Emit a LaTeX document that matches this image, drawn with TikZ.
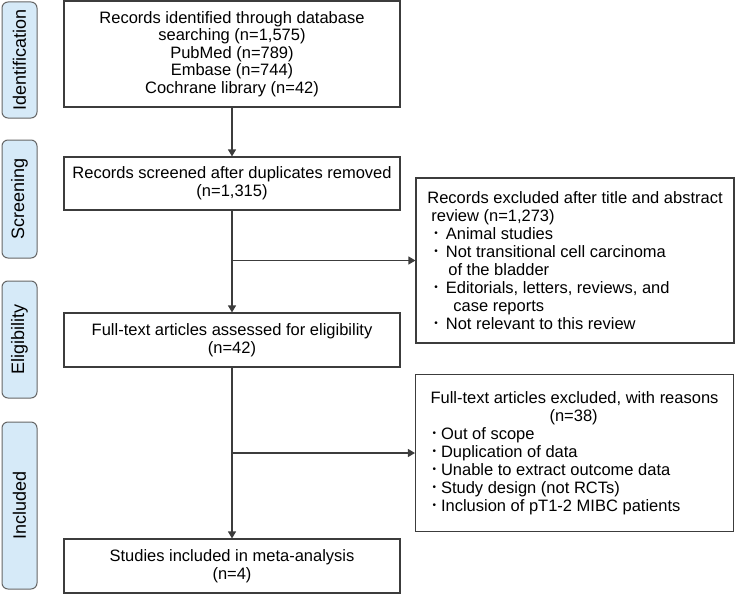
\documentclass[tikz,border=0pt]{standalone}
\usepackage{fontspec}
\setmainfont{Liberation Sans}
\usetikzlibrary{arrows.meta}
\definecolor{linegray}{HTML}{3C3C3C}
\definecolor{stagefill}{HTML}{D6EAF8}
\newcommand{\bul}{\raisebox{2.5pt}{\fontsize{10}{10}\selectfont •}}

\begin{document}
\begin{tikzpicture}[x=1pt,y=-1pt,font={\fontsize{16.5}{18}\selectfont},
  box/.style={draw=linegray, line width=1.1pt, align=center, minimum width=336pt},
  excl/.style={draw=linegray, line width=1.1pt, align=left, minimum width=318pt},
  stage/.style={draw=black!60, fill=stagefill, line width=1pt, rounded corners=6pt, rotate=90, minimum height=35pt, font={\fontsize{18}{18}\selectfont}},
  arr/.style={draw=linegray, line width=1.1pt, -{Triangle[width=8pt,length=7pt]}}]
\useasboundingbox (0,0) rectangle (735,594);
% stages on the left
\node[stage, minimum width=116pt] (lident) at (19.5,60) {Identification};
\node[stage, minimum width=118pt] (lscreen) at (19.5,199) {Screening};
\node[stage, minimum width=117pt] (lelig) at (19.5,339.5) {Eligibility};
\node[stage, minimum width=167pt] (lincl) at (19.5,505.5) {Included};
% main column
\node[box, minimum height=106pt, font={\fontsize{16.5}{17.4}\selectfont}] (ident) at (232,54) {Records identified through database\\searching (n=1,575)\\PubMed (n=789)\\Embase (n=744)\\Cochrane library (n=42)};
\node[box, minimum height=53pt] (screen) at (232,183.5) {Records screened after duplicates removed\\(n=1,315)};
\node[box, minimum height=54pt] (elig) at (232,340) {Full-text articles assessed for eligibility\\(n=42)};
\node[box, minimum height=54pt] (incl) at (232,566) {Studies included in meta-analysis\\(n=4)};
% exclusions
\node[excl, minimum height=165pt] (excl1) at (575,260.5) {Records excluded after title and abstract\\
\hspace*{4pt}review (n=1,273)\\
\hspace*{7pt}\bul\hspace{8pt}Animal studies\\
\hspace*{7pt}\bul\hspace{8pt}Not transitional cell carcinoma\\
\hspace*{21pt}of the bladder\\
\hspace*{7pt}\bul\hspace{8pt}Editorials, letters, reviews, and\\
\hspace*{26pt}case reports\\
\hspace*{7pt}\bul\hspace{8pt}Not relevant to this review};
\node[excl, minimum height=157pt] (excl2) at (574.5,453) {Full-text articles excluded, with reasons\\
\hspace*{119pt}(n=38)\\
\hspace*{2pt}\bul\hspace{5pt}Out of scope\\
\hspace*{2pt}\bul\hspace{5pt}Duplication of data\\
\hspace*{2pt}\bul\hspace{5pt}Unable to extract outcome data\\
\hspace*{2pt}\bul\hspace{5pt}Study design (not RCTs)\\
\hspace*{2pt}\bul\hspace{5pt}Inclusion of pT1-2 MIBC patients};
% arrows
\draw[arr] (ident) -- (screen);
\draw[arr] (screen) -- (elig);
\draw[arr] (elig) -- (incl);
\coordinate (br1) at (screen.south |- excl1.west);
\coordinate (br2) at (elig.south |- excl2.west);
\draw[arr] (br1) -- (excl1.west);
\draw[arr] (br2) -- (excl2.west);
\end{tikzpicture}
\end{document}
